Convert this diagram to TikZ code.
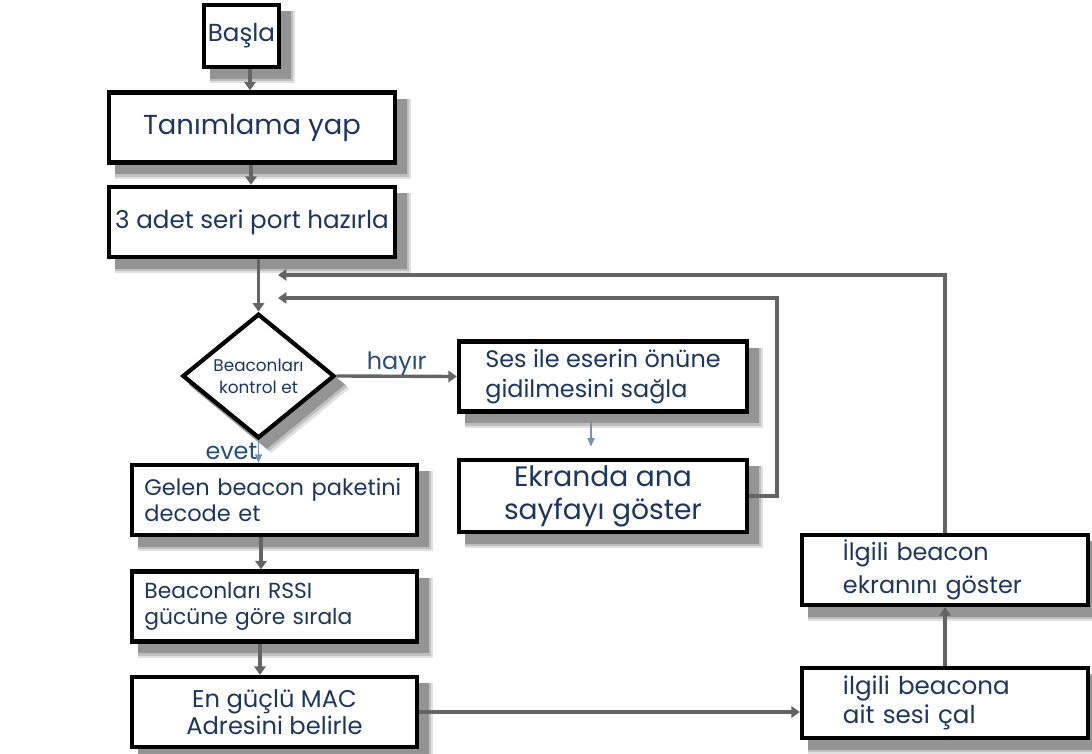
\documentclass[tikz,border=0pt]{standalone}
\usepackage{fontspec}
\setmainfont{Poppins}
\usetikzlibrary{shapes.geometric,arrows.meta,calc,backgrounds}
\definecolor{navy}{RGB}{28,54,96}
\definecolor{labelblue}{RGB}{38,78,120}
\definecolor{linegray}{RGB}{100,100,100}
\definecolor{thinblue}{RGB}{120,145,178}
\tikzset{
  box/.style={draw=black,line width=3pt,fill=white,text=navy,
    minimum width=7.15cm,minimum height=1.75cm,inner sep=0pt},
  cond/.style={draw=black,line width=3pt,fill=white,text=navy,diamond,
    minimum width=3.8cm,minimum height=3.1cm,inner sep=0pt,align=center},
  arr/.style={draw=linegray,line width=2.4pt,-{Triangle[width=8pt,length=6pt]}},
  thinarr/.style={draw=thinblue,line width=1.1pt,-{Triangle[width=5pt,length=6pt]}},
  lbl/.style={text=labelblue,font=\fontsize{17}{20}\selectfont}
}
\begin{document}
\begin{tikzpicture}[x=0.025cm,y=-0.025cm]
\useasboundingbox (0,0) rectangle (1092,754);

\node[box,minimum width=1.875cm,minimum height=1.55cm,font=\fontsize{17.5}{22}\selectfont] (basla) at (241.5,36) {Başla};
\node[box,font=\fontsize{19.5}{22}\selectfont] (tanim) at (252,127.5) {Tanımlama yap};
\node[box,font=\fontsize{17.5}{20}\selectfont] (seri) at (252,222) {3 adet seri port hazırla};
\node[cond,font=\fontsize{12}{15.5}\selectfont] (kontrol) at (258.5,376) {Beaconları\\kontrol et};

\node[box,align=left,minimum width=7.2cm,font=\fontsize{17}{21.5}\selectfont] (ses) at (603,376.5) {Ses ile eserin önüne\\gidilmesini sağla};
\node[box,align=center,minimum width=7.2cm,minimum height=1.8cm,font=\fontsize{20}{23.5}\selectfont] (ekran) at (603,496) {Ekranda ana\\sayfayı göster};

\node[box,text width=6.5cm,align=left,minimum width=7.125cm,font=\fontsize{16}{18.5}\selectfont] (gelen) at (274.5,500) {Gelen beacon paketini\\decode et};
\node[box,text width=6.5cm,align=left,minimum width=7.125cm,font=\fontsize{15.5}{18.5}\selectfont] (rssi) at (274.5,606.5) {Beaconları RSSI\\gücüne göre sırala};
\node[box,align=center,minimum width=7.125cm,font=\fontsize{17.2}{19.5}\selectfont] (mac) at (274.5,712) {En güçlü MAC\\Adresini belirle};

\node[box,text width=5.1cm,align=left,font=\fontsize{17}{23.5}\selectfont] (ilgiliekran) at (945,570) {İlgili beacon\\ekranını göster};
\node[box,text width=5.1cm,align=left,font=\fontsize{17.5}{21}\selectfont] (ilgilises) at (945,703) {ilgili beacona\\ait sesi çal};

% shadows
\begin{pgfonlayer}{background}
\foreach \n in {basla,tanim,seri,ses,ekran,gelen,rssi,mac,ilgiliekran,ilgilises} {
  \fill[black!12] ([shift={(6pt,-10pt)}]\n.south west) rectangle ([shift={(10pt,-6pt)}]\n.north east);
  \fill[black!25] ([shift={(6pt,-8.5pt)}]\n.south west) rectangle ([shift={(8.5pt,-6pt)}]\n.north east);
  \fill[black!42] ([shift={(6pt,-7pt)}]\n.south west) rectangle ([shift={(7pt,-6pt)}]\n.north east);
}
\foreach \d/\c in {9pt/12,7.5pt/25,6pt/42}
  \fill[black!\c] ($(kontrol.north)+(\d,-\d)$) -- ($(kontrol.east)+(\d,-\d)$)
    -- ($(kontrol.south)+(\d,-\d)$) -- ($(kontrol.west)+(\d,-\d)$) -- cycle;
\end{pgfonlayer}

\coordinate (geri1) at (278,298);
\coordinate (geri2) at (278,275);

\draw[arr] (basla.south -| 250,0) -- (tanim.north -| 250,0);
\draw[arr] (tanim.south -| 251,0) -- (seri.north -| 251,0);
\draw[arr] (seri.south -| kontrol.north) -- (kontrol.north);
\draw[arr] (kontrol.east) -- node[lbl,above,yshift=-4pt] {hayır} (ses.west);
\draw[thinarr] (kontrol.south) -- node[lbl,left,xshift=3pt] {evet} (kontrol.south |- gelen.north);
\draw[thinarr,shorten <=5pt,shorten >=8pt] (ses.south -| 591,0) -- (ekran.north -| 591,0);
\draw[arr] (gelen.south -| 261,0) -- (rssi.north -| 261,0);
\draw[arr] (rssi.south -| 260,0) -- (mac.north -| 260,0);
\draw[arr] (mac.east) -- (mac.east -| ilgilises.west);
\draw[arr] (ilgilises.north) -- (ilgiliekran.south);
\draw[arr] (ekran.east) -- ++(28,0) |- (geri1);
\draw[arr] (ilgiliekran.north) |- (geri2);
\end{tikzpicture}
\end{document}
